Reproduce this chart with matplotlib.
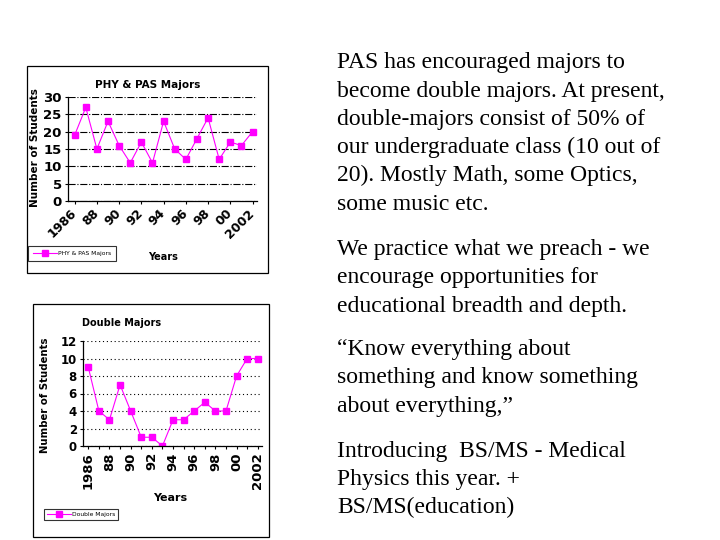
import numpy as np
import matplotlib
matplotlib.use('Agg')
import matplotlib.pyplot as plt
from matplotlib.patches import Rectangle

years = list(range(1986, 2003))
tick_labels = ['1986', '88', '90', '92', '94', '96', '98', '00', '2002']
phy_pas_majors = [19, 27, 15, 23, 16, 11, 17, 11, 23, 15, 12, 18, 24, 12, 17, 16, 20]
double_majors = [9, 4, 3, 7, 4, 1, 1, 0, 3, 3, 4, 5, 4, 4, 8, 10, 10]

paragraphs = [
    ['PAS has encouraged majors to',
     'become double majors. At present,',
     'double-majors consist of 50% of',
     'our undergraduate class (10 out of',
     '20). Mostly Math, some Optics,',
     'some music etc.'],
    ['We practice what we preach - we',
     'encourage opportunities for',
     'educational breadth and depth.'],
    ['\u201cKnow everything about',
     'something and know something',
     'about everything,\u201d'],
    ['Introducing  BS/MS - Medical',
     'Physics this year. +',
     'BS/MS(education)'],
]

W, H = 720, 540
MAGENTA = '#ff00ff'
BOLD = dict(family='DejaVu Sans', weight='bold')


def px_rect(x0, y0, x1, y1):
    # pixel box (top-left origin) -> figure fraction rect
    return [x0 / W, 1 - y1 / H, (x1 - x0) / W, (y1 - y0) / H]


def frame(fig, x0, y0, x1, y1):
    fig.patches.append(Rectangle((x0 / W, 1 - y1 / H), (x1 - x0) / W, (y1 - y0) / H,
                                 transform=fig.transFigure, fill=False,
                                 edgecolor='black', linewidth=0.9))


fig = plt.figure(figsize=(7.2, 5.4), dpi=100)

# ---- chart 1: PHY & PAS majors
frame(fig, 27, 66, 268, 273)
ax1 = fig.add_axes(px_rect(68, 97, 257, 201))
ax1.plot(years, phy_pas_majors, color=MAGENTA, lw=0.8, marker='s', ms=4.8,
         mec=MAGENTA, mfc=MAGENTA, label='PHY & PAS Majors')
ax1.set_xlim(1985.4, 2002.4)
ax1.set_ylim(0, 30)
ax1.set_yticks(range(0, 31, 5))
ax1.yaxis.grid(True, color='black', linestyle='-.', linewidth=0.8)
ax1.set_axisbelow(True)
ax1.set_xticks(years[::2])
ax1.set_xticklabels(tick_labels, rotation=45, ha='right', va='center',
                    rotation_mode='anchor', fontsize=9, **BOLD)
for lab in ax1.get_yticklabels():
    lab.set_fontsize(9.5)
    lab.set_fontweight('bold')
ax1.tick_params(axis='both', length=2.5, width=0.8, pad=2)
ax1.tick_params(axis='x', pad=5)
for s in ['top', 'right']:
    ax1.spines[s].set_visible(False)
ax1.spines['left'].set_linewidth(0.9)
ax1.spines['bottom'].set_linewidth(0.9)
fig.text(148 / W, 1 - 85 / H, 'PHY & PAS Majors', ha='center', va='center', fontsize=7.5, **BOLD)
fig.text(35 / W, 1 - 148 / H, 'Number of Students', rotation=90, ha='center', va='center',
         fontsize=7.5, **BOLD)
fig.text(163 / W, 1 - 257 / H, 'Years', ha='center', va='center', fontsize=7, **BOLD)
fig.legend(*ax1.get_legend_handles_labels(), loc='upper left',
           bbox_to_anchor=(28 / W, 1 - 246 / H), fontsize=4.3, frameon=True,
           fancybox=False, edgecolor='black', borderpad=0.8, handlelength=4,
           handletextpad=0.2, borderaxespad=0).get_frame().set_linewidth(0.8)

# ---- chart 2: Double majors
frame(fig, 33, 304, 269, 537)
ax2 = fig.add_axes(px_rect(83, 341, 262, 446))
ax2.plot(years, double_majors, color=MAGENTA, lw=0.8, marker='s', ms=4.3,
         mec=MAGENTA, mfc=MAGENTA, label='Double Majors')
ax2.set_xlim(1985.5, 2002.4)
ax2.set_ylim(0, 12)
ax2.set_yticks(range(0, 13, 2))
ax2.yaxis.grid(True, color='black', linestyle=(0, (1, 2.5)), linewidth=0.8)
ax2.set_axisbelow(True)
ax2.set_xticks(years)
ax2.set_xticklabels([t if i % 2 == 0 else '' for i, t in
                     enumerate([str(y)[-2:] if y not in (1986, 2002) else str(y) for y in years])],
                    rotation=90, ha='center', va='top', fontsize=9.5, **BOLD)
for lab in ax2.get_yticklabels():
    lab.set_fontsize(8.5)
    lab.set_fontweight('bold')
ax2.tick_params(axis='both', length=2.5, width=0.8, pad=2)
for s in ['top', 'right']:
    ax2.spines[s].set_visible(False)
ax2.spines['left'].set_linewidth(0.9)
ax2.spines['bottom'].set_linewidth(0.9)
fig.text(82 / W, 1 - 323 / H, 'Double Majors', ha='left', va='center', fontsize=7, **BOLD)
fig.text(45 / W, 1 - 395 / H, 'Number of Students', rotation=90, ha='center', va='center',
         fontsize=7.3, **BOLD)
fig.text(170 / W, 1 - 498 / H, 'Years', ha='center', va='center', fontsize=8, **BOLD)
fig.legend(*ax2.get_legend_handles_labels(), loc='upper left',
           bbox_to_anchor=(44 / W, 1 - 509 / H), fontsize=4.3, frameon=True,
           fancybox=False, edgecolor='black', borderpad=0.5, handlelength=4,
           handletextpad=0.2, borderaxespad=0).get_frame().set_linewidth(0.8)

# ---- text block on the right
line_h = 28.3
para_tops = [68.3, 255, 355, 456.7]
for top, lines in zip(para_tops, paragraphs):
    for i, line in enumerate(lines):
        fig.text(337 / W, 1 - (top + i * line_h) / H, line, ha='left', va='baseline',
                 fontsize=17, family='Liberation Serif', color='black')

fig.savefig('out.png', dpi=100)
